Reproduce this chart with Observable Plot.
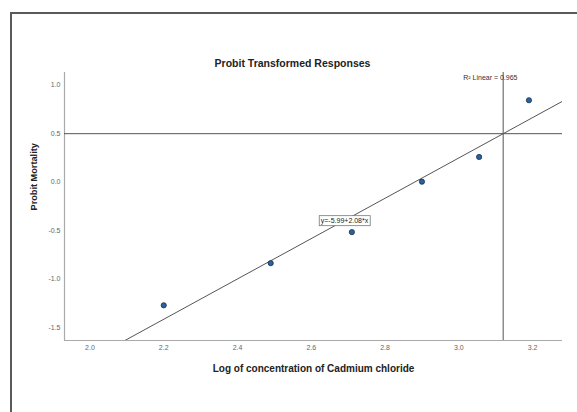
<!DOCTYPE html>
<html>
<head>
<meta charset="utf-8">
<script src="https://cdn.jsdelivr.net/npm/d3@7"></script>
<script src="https://cdn.jsdelivr.net/npm/@observablehq/plot@0.6"></script>
<style>
  html, body { margin: 0; padding: 0; background: #fff; overflow: hidden; }
  #wrap { position: relative; width: 577px; height: 412px; overflow: hidden; font-family: "Liberation Sans", Arial, sans-serif; }
  #frame { position: absolute; left: 10px; top: 12px; width: 640px; height: 460px; border: 2px solid #5a5a5a; box-sizing: border-box; }
  #chart { position: absolute; left: 0; top: 0; }
</style>
</head>
<body>
<div id="wrap"><div id="frame"></div><div id="chart"></div></div>
<script>
// Data
const logConc = [2.20, 2.49, 2.71, 2.90, 3.055, 3.19];
const probitMortality = [-1.27, -0.835, -0.515, 0.005, 0.26, 0.845];
const xTicks = [2.0, 2.2, 2.4, 2.6, 2.8, 3.0, 3.2];
const yTicks = [-1.5, -1.0, -0.5, 0.0, 0.5, 1.0];
const intercept = -5.99;
const slope = 2.08;
const rSquared = 0.965;
const refProbit = 0.5;
const titleText = "Probit Transformed Responses";
const xLabel = "Log of concentration of Cadmium chloride";
const yLabel = "Probit Mortality";

const xDomain = [1.931, 3.281];
const yDomain = [-1.633, 1.131];

const points = logConc.map((x, i) => ({x, y: probitMortality[i]}));
const fitLine = xDomain.map(x => ({x, y: intercept + slope * x}));
const xAtRef = (refProbit - intercept) / slope;
const eqX = 2.69;
const eqText = `y=${intercept.toFixed(2)}+${slope.toFixed(2)}*x`;
const eqLabel = [{x: eqX, y: intercept + slope * eqX, text: eqText}];

const font = "'Liberation Sans', Arial, sans-serif";

const chart = Plot.plot({
  width: 577,
  height: 412,
  marginLeft: 64,
  marginRight: 15,
  marginTop: 72,
  marginBottom: 72,
  style: {fontFamily: font, background: "transparent", overflow: "visible"},
  x: {domain: xDomain},
  y: {domain: yDomain},
  marks: [
    Plot.axisX({ticks: xTicks, tickFormat: d => d.toFixed(1), tickSize: 0, tickPadding: 5, fontSize: 7, fill: "#666", label: null}),
    Plot.axisY({ticks: yTicks, tickFormat: d => d.toFixed(1), tickSize: 0, tickPadding: 4, fontSize: 7, fill: "#666", label: null}),
    Plot.ruleY([yDomain[0]], {stroke: "#aaa", strokeWidth: 1.2}),
    Plot.ruleX([xDomain[0]], {stroke: "#aaa", strokeWidth: 1.2}),
    Plot.ruleY([refProbit], {stroke: "#555", strokeWidth: 1}),
    Plot.ruleX([xAtRef], {stroke: "#555", strokeWidth: 1}),
    Plot.line(fitLine, {x: "x", y: "y", stroke: "#555", strokeWidth: 1, clip: true}),
    Plot.dot(points, {x: "x", y: "y", r: 2.6, fill: "#2a62a0", stroke: "#1b2f48", strokeWidth: 0.8}),
    Plot.text(eqLabel, {x: "x", y: "y", text: "text", fontSize: 7, fill: "#222"}),
    Plot.text([`R\u00B2 Linear = ${rSquared}`], {frameAnchor: "top-right", textAnchor: "end", lineAnchor: "middle", dx: -45, dy: 5, fontSize: 7, fill: "#333"}),
    Plot.text([titleText], {frameAnchor: "top", lineAnchor: "middle", dx: -21, dy: -9, fontSize: 10.5, fontWeight: "bold", fill: "#222"}),
    Plot.text([xLabel], {frameAnchor: "bottom", lineAnchor: "middle", dy: 28, fontSize: 10, fontWeight: "bold", fill: "#222"}),
    Plot.text([yLabel], {frameAnchor: "left", rotate: -90, lineAnchor: "middle", dx: -30, dy: 4, fontSize: 9.2, fontWeight: "bold", fill: "#222"})
  ]
});
document.getElementById("chart").appendChild(chart);

// white box with border behind the equation label
Array.from(chart.querySelectorAll("text")).filter(t => t.textContent === eqText).forEach(t => {
  const b = t.getBBox();
  const r = document.createElementNS("http://www.w3.org/2000/svg", "rect");
  r.setAttribute("x", b.x - 1.5);
  r.setAttribute("y", b.y - 1);
  r.setAttribute("width", b.width + 3);
  r.setAttribute("height", b.height + 2);
  r.setAttribute("fill", "#fff");
  r.setAttribute("stroke", "#777");
  r.setAttribute("stroke-width", 0.8);
  if (t.getAttribute("transform")) r.setAttribute("transform", t.getAttribute("transform"));
  t.parentNode.insertBefore(r, t);
});
</script>
</body>
</html>
